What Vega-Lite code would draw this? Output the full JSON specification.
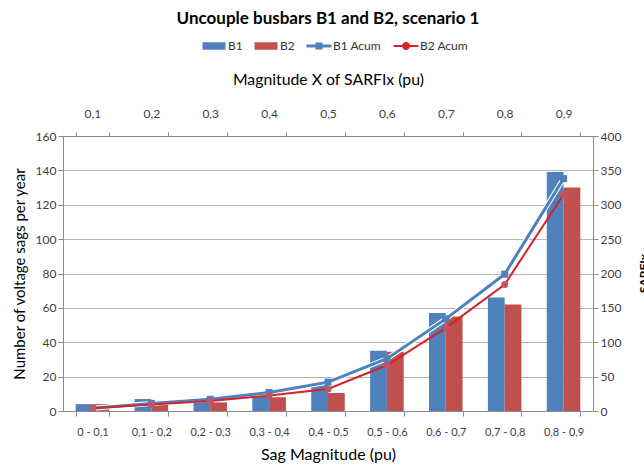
{
  "$schema": "https://vega.github.io/schema/vega-lite/v6.json",
  "width": 530,
  "height": 275,
  "autosize": {"type": "none"},
  "padding": {"left": 63, "top": 136, "right": 51, "bottom": 53},
  "background": "white",
  "config": {
    "font": "Lato",
    "view": {"stroke": null},
    "axis": {
      "domainColor": "#8c8c8c",
      "tickColor": "#8c8c8c",
      "gridColor": "#b4b4b4",
      "labelColor": "#404040",
      "labelFontSize": 12,
      "titleColor": "#000000",
      "titleFontWeight": "normal",
      "titleFontSize": 15.8,
      "tickSize": 5
    }
  },
  "title": {
    "text": "Uncouple busbars B1 and B2, scenario 1",
    "fontSize": 17,
    "fontWeight": "bold",
    "color": "#000000",
    "anchor": "middle",
    "offset": 12
  },
  "datasets": {
    "bars": [
      {"cat": "0 - 0,1", "series": "B1", "value": 4},
      {"cat": "0,1 - 0,2", "series": "B1", "value": 7},
      {"cat": "0,2 - 0,3", "series": "B1", "value": 6},
      {"cat": "0,3 - 0,4", "series": "B1", "value": 10},
      {"cat": "0,4 - 0,5", "series": "B1", "value": 16},
      {"cat": "0,5 - 0,6", "series": "B1", "value": 35},
      {"cat": "0,6 - 0,7", "series": "B1", "value": 57},
      {"cat": "0,7 - 0,8", "series": "B1", "value": 66},
      {"cat": "0,8 - 0,9", "series": "B1", "value": 139},
      {"cat": "0 - 0,1", "series": "B2", "value": 4},
      {"cat": "0,1 - 0,2", "series": "B2", "value": 5.5},
      {"cat": "0,2 - 0,3", "series": "B2", "value": 5},
      {"cat": "0,3 - 0,4", "series": "B2", "value": 8},
      {"cat": "0,4 - 0,5", "series": "B2", "value": 10.5},
      {"cat": "0,5 - 0,6", "series": "B2", "value": 34.5},
      {"cat": "0,6 - 0,7", "series": "B2", "value": 55},
      {"cat": "0,7 - 0,8", "series": "B2", "value": 62},
      {"cat": "0,8 - 0,9", "series": "B2", "value": 130}
    ],
    "acum": [
      {"cat": "0 - 0,1", "series": "B1 Acum", "value": 4},
      {"cat": "0,1 - 0,2", "series": "B1 Acum", "value": 11},
      {"cat": "0,2 - 0,3", "series": "B1 Acum", "value": 17},
      {"cat": "0,3 - 0,4", "series": "B1 Acum", "value": 27},
      {"cat": "0,4 - 0,5", "series": "B1 Acum", "value": 42},
      {"cat": "0,5 - 0,6", "series": "B1 Acum", "value": 76},
      {"cat": "0,6 - 0,7", "series": "B1 Acum", "value": 134},
      {"cat": "0,7 - 0,8", "series": "B1 Acum", "value": 199},
      {"cat": "0,8 - 0,9", "series": "B1 Acum", "value": 338},
      {"cat": "0 - 0,1", "series": "B2 Acum", "value": 4},
      {"cat": "0,1 - 0,2", "series": "B2 Acum", "value": 9.5},
      {"cat": "0,2 - 0,3", "series": "B2 Acum", "value": 14.5},
      {"cat": "0,3 - 0,4", "series": "B2 Acum", "value": 22.5},
      {"cat": "0,4 - 0,5", "series": "B2 Acum", "value": 32},
      {"cat": "0,5 - 0,6", "series": "B2 Acum", "value": 66.5},
      {"cat": "0,6 - 0,7", "series": "B2 Acum", "value": 121},
      {"cat": "0,7 - 0,8", "series": "B2 Acum", "value": 184},
      {"cat": "0,8 - 0,9", "series": "B2 Acum", "value": 315}
    ]
  },
  "layer": [
    {
      "data": {"name": "bars"},
      "mark": {"type": "bar"},
      "encoding": {
        "x": {
          "field": "cat",
          "type": "nominal",
          "sort": null,
          "scale": {
            "domain": ["0 - 0,1", "0,1 - 0,2", "0,2 - 0,3", "0,3 - 0,4", "0,4 - 0,5", "0,5 - 0,6", "0,6 - 0,7", "0,7 - 0,8", "0,8 - 0,9"],
            "paddingInner": 0.43,
            "paddingOuter": 0.215
          },
          "axis": {
            "orient": "bottom",
            "title": "Sag Magnitude (pu)",
            "titleFontSize": 16,
            "labelAngle": 0,
            "labelFontSize": 11,
            "labelPadding": 10,
            "tickBand": "extent",
            "titlePadding": 9
          }
        },
        "xOffset": {"field": "series", "type": "nominal", "scale": {"domain": ["B1", "B2"]}},
        "y": {
          "field": "value",
          "type": "quantitative",
          "scale": {"domain": [0, 160], "nice": false},
          "axis": {
            "title": "Number of voltage sags per year",
            "titleFontSize": 15,
            "values": [0, 20, 40, 60, 80, 100, 120, 140, 160],
            "grid": true,
            "titlePadding": 8
          }
        },
        "color": {
          "field": "series",
          "type": "nominal",
          "scale": {
            "domain": ["B1", "B2", "B1 Acum", "B2 Acum"],
            "range": ["#4F81BD", "#C0504D", "#4F81BD", "#D42424"]
          },
          "legend": {
            "orient": "none",
            "direction": "horizontal",
            "legendX": 145,
            "legendY": -96,
            "title": null,
            "symbolSize": 100,
            "labelOffset": 8,
            "columnPadding": 11,
            "labelFontSize": 12,
            "labelColor": "#333333",
            "encoding": {
              "symbols": {
                "shape": {"value": {"expr": "datum.value == 'B1 Acum' ? 'M-2.5,-0.3H-0.7V-0.7H0.7V-0.3H2.5V0.3H0.7V0.7H-0.7V0.3H-2.5Z' : (datum.value == 'B2 Acum' ? 'M-2.5,-0.2H2.5V0.2H-2.5Z M0.8,0A0.8,0.8 0 1 1 -0.8,0A0.8,0.8 0 1 1 0.8,0Z' : 'M-2.3,-0.75H2.3V0.75H-2.3Z')"}},
                "fill": {"value": {"expr": "scale('color', datum.value)"}},
                "strokeWidth": {"value": 0},
                "opacity": {"value": 1}
              }
            }
          }
        }
      }
    },
    {
      "data": {"name": "acum"},
      "encoding": {
        "x": {
          "field": "cat",
          "type": "nominal",
          "sort": null,
          "axis": {
            "orient": "top",
            "title": "Magnitude X of SARFIx (pu)",
            "labelExpr": "split(datum.label, ' - ')[1]",
            "labelAngle": 0,
            "labelFontSize": 12,
            "labelPadding": 12,
            "tickBand": "extent",
            "tickSize": 4,
            "titlePadding": 20
          }
        },
        "y": {
          "field": "value",
          "type": "quantitative",
          "scale": {"domain": [0, 400], "nice": false},
          "axis": {
            "orient": "right",
            "title": "SARFIx",
            "titleFontWeight": "bold",
            "titleFontSize": 12,
            "titleAngle": 270,
            "titleX": 54,
            "titleY": 137,
            "titleBaseline": "alphabetic",
            "values": [0, 50, 100, 150, 200, 250, 300, 350, 400],
            "grid": false
          }
        }
      },
      "layer": [
        {
          "transform": [{"filter": "datum.series == 'B1 Acum'"}],
          "mark": {"type": "line", "color": "white", "strokeWidth": 5},
          "encoding": {}
        },
        {
          "mark": {"type": "line"},
          "encoding": {
            "color": {"field": "series", "type": "nominal"},
            "strokeWidth": {
              "field": "series",
              "type": "nominal",
              "scale": {"domain": ["B1 Acum", "B2 Acum"], "range": [3, 2]},
              "legend": null
            }
          }
        },
        {
          "mark": {"type": "point", "filled": true, "opacity": 1, "size": 50},
          "encoding": {
            "shape": {
              "field": "series",
              "type": "nominal",
              "scale": {"domain": ["B1 Acum", "B2 Acum"], "range": ["square", "circle"]},
              "legend": null
            },
            "fill": {
              "field": "series",
              "type": "nominal",
              "scale": {"domain": ["B1 Acum", "B2 Acum"], "range": ["#4F81BD", "#BF5468"]},
              "legend": null
            }
          }
        }
      ]
    }
  ],
  "resolve": {"scale": {"y": "independent"}, "axis": {"x": "independent"}}
}
